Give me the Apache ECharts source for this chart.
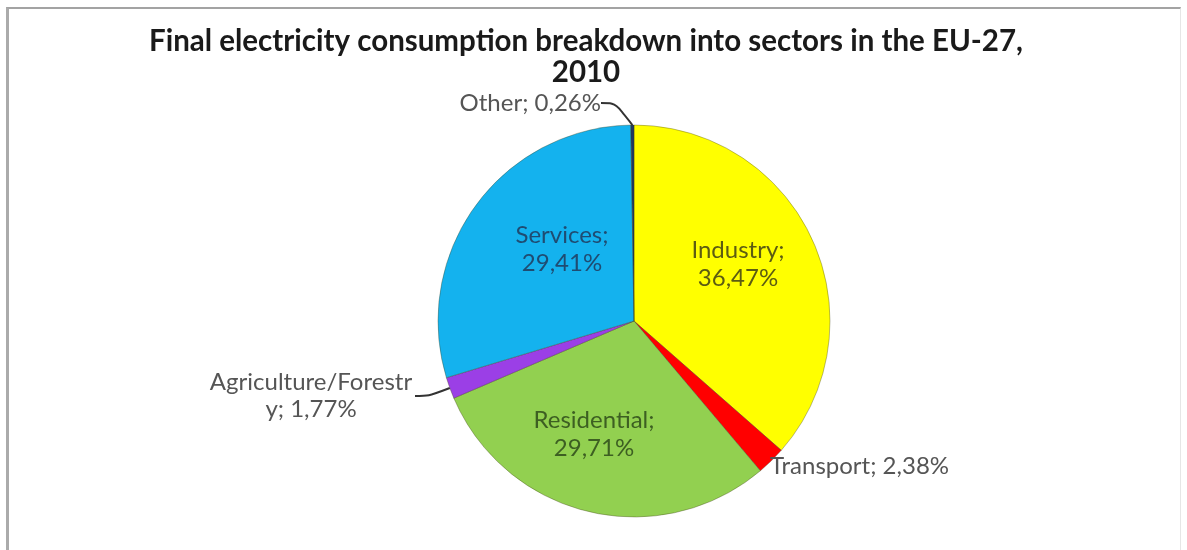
<!DOCTYPE html>
<html>
<head>
<meta charset="utf-8">
<title>Final electricity consumption breakdown into sectors in the EU-27, 2010</title>
<script src="https://cdn.jsdelivr.net/npm/echarts@6/dist/echarts.min.js"></script>
<style>
  html, body { margin: 0; padding: 0; background: #ffffff; }
  #wrap { position: relative; width: 1187px; height: 550px; overflow: hidden; }
  #frame {
    position: absolute; left: 6px; top: 7px; width: 1175px; height: 560px;
    border-top: 2px solid #a3a3a3; border-left: 3px solid #ababab; border-right: 1px solid #e6e6e6;
    box-sizing: border-box;
  }
  #chart { position: absolute; left: 0; top: 0; width: 1187px; height: 550px; }
</style>
</head>
<body>
<div id="wrap">
  <div id="frame"></div>
  <div id="chart"></div>
</div>
<script>
// Sector shares of final electricity consumption (percent), clockwise from 12 o'clock
const sectors = ['Industry', 'Transport', 'Residential', 'Agriculture/Forestry', 'Services', 'Other'];
const shares = [36.47, 2.38, 29.71, 1.77, 29.41, 0.26];
const titleLines = ['Final electricity consumption breakdown into sectors in the EU-27,', '2010'];

const sliceColors = {
  'Industry': '#FFFF00',
  'Transport': '#FF0000',
  'Residential': '#92D050',
  'Agriculture/Forestry': '#9B3FE6',
  'Services': '#14B2EE',
  'Other': '#203764'
};
// Large slices carry their label inside, small ones outside with a leader line
const insideLabel = {
  'Industry': { color: '#5c5c12', x: 738, y: 264 },
  'Residential': { color: '#3d5f22', x: 594, y: 434 },
  'Services': { color: '#1f4c72', x: 562, y: 249 }
};
const outsideLabel = {
  'Other': { x: 601, y: 103, align: 'right' },
  'Agriculture/Forestry': { x: 311, y: 396, align: 'center' },
  'Transport': { x: 770, y: 466, align: 'left' }
};

const fmt = v => v.toFixed(2).replace('.', ',') + '%';
const FONT = 'Lato, "Open Sans", sans-serif';

const data = sectors.map((name, i) => {
  const inside = insideLabel[name];
  const item = {
    name: name,
    value: shares[i],
    itemStyle: { color: sliceColors[name] }
  };
  if (inside) {
    item.label = {
      position: 'inside',
      color: inside.color,
      formatter: p => p.name + ';\n' + fmt(p.value),
      lineHeight: 28,
      align: 'center'
    };
    item.labelLine = { show: false };
  } else {
    item.label = { position: 'outside', color: '#555555' };
    if (name === 'Transport') item.labelLine = { show: false };
    if (name === 'Agriculture/Forestry') {
      item.label.width = 208;
      item.label.overflow = 'breakAll';
      item.label.lineHeight = 27;
      item.label.align = 'center';
    }
  }
  return item;
});

const chart = echarts.init(document.getElementById('chart'), null, { renderer: 'canvas' });
chart.setOption({
  backgroundColor: 'transparent',
  animation: false,
  title: {
    text: titleLines.join('\n'),
    left: 586,
    top: 26,
    padding: 0,
    textAlign: 'center',
    textStyle: {
      fontFamily: FONT,
      fontWeight: 'bold',
      fontSize: 29.5,
      lineHeight: 31,
      color: '#1a1a1a'
    }
  },
  series: [{
    type: 'pie',
    center: [634, 321],
    radius: 196,
    startAngle: 90,
    clockwise: true,
    avoidLabelOverlap: false,
    itemStyle: { borderColor: 'rgba(60,60,20,0.35)', borderWidth: 1 },
    label: {
      fontFamily: FONT,
      fontSize: 24,
      formatter: p => p.name + '; ' + fmt(p.value)
    },
    labelLine: {
      show: true,
      length: 14,
      length2: 14,
      smooth: 0.3,
      lineStyle: { color: '#333333', width: 2 }
    },
    labelLayout: function (params) {
      const name = sectors[params.dataIndex];
      const inside = insideLabel[name];
      if (inside) {
        return { x: inside.x, y: inside.y, align: 'center', verticalAlign: 'middle' };
      }
      const o = outsideLabel[name];
      return { x: o.x, y: o.y, align: o.align, verticalAlign: 'middle' };
    },
    data: data
  }]
});
</script>
</body>
</html>
